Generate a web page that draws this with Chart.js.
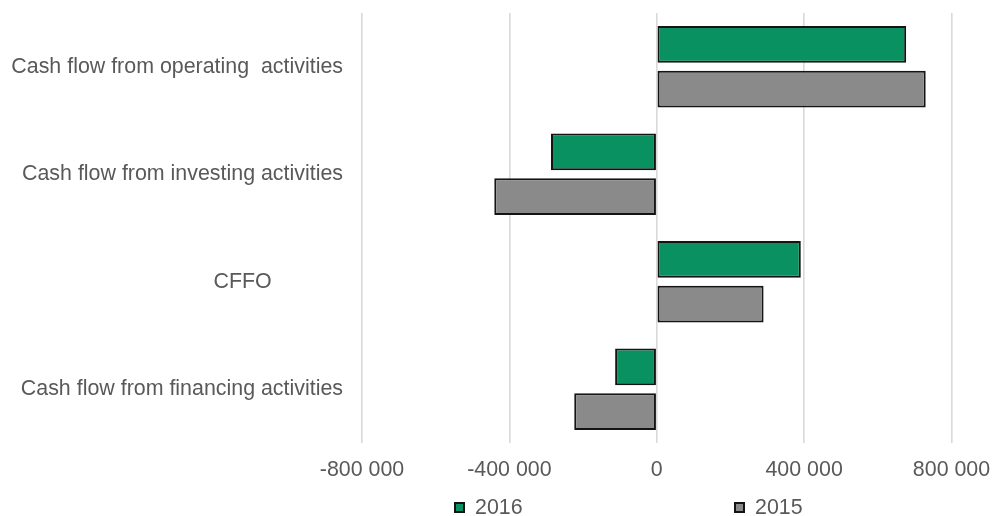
<!DOCTYPE html>
<html>
<head>
<meta charset="utf-8">
<script src="https://cdn.jsdelivr.net/npm/chart.js@4"></script>
<style>
  html, body { margin: 0; padding: 0; background: #ffffff; }
  #wrap { width: 993px; height: 516px; position: relative; }
</style>
</head>
<body>
<div id="wrap"><canvas id="cf"></canvas></div>
<script>
// Cash flow summary, two fiscal years
const categories = [
  'Cash flow from operating  activities',
  'Cash flow from investing activities',
  'CFFO            ',
  'Cash flow from financing activities'
];
const seriesNames = ['2016', '2015'];
const values2016 = [677000, -287000, 391000, -113000];
const values2015 = [730000, -441000, 290000, -224000];
const axisTicks = [-800000, -400000, 0, 400000, 800000];

const FONT = '"Liberation Sans", Arial, Helvetica, sans-serif';
const TEXT = '#595959';
const FONT_SIZE = 21.4;

function fmtThousands(v) {
  const s = Math.abs(v).toFixed(0).replace(/\B(?=(\d{3})+(?!\d))/g, ' ');
  return (v < 0 ? '-' : '') + s;
}

// Legend row drawn under the axis, one swatch + label per dataset
const bottomLegend = {
  id: 'bottomLegend',
  afterDraw(chart, args, opts) {
    const ctx = chart.ctx;
    ctx.save();
    ctx.font = FONT_SIZE + 'px ' + FONT;
    ctx.textBaseline = 'middle';
    ctx.textAlign = 'left';
    chart.data.datasets.forEach((ds, i) => {
      const x = opts.xs[i];
      const y = opts.y;
      ctx.fillStyle = ds.backgroundColor;
      ctx.strokeStyle = ds.borderColor;
      ctx.lineWidth = 2;
      ctx.fillRect(x, y - 4.5, 9, 9);
      ctx.strokeRect(x, y - 4.5, 9, 9);
      ctx.fillStyle = TEXT;
      ctx.fillText(ds.label, x + 20, y + 1);
    });
    ctx.restore();
  }
};

new Chart(document.getElementById('cf'), {
  type: 'bar',
  data: {
    labels: categories,
    datasets: [
      {
        label: seriesNames[0],
        data: values2016,
        backgroundColor: '#0a9161',
        borderColor: '#141414',
        borderWidth: 2,
        borderSkipped: false,
        categoryPercentage: 0.832,
        barPercentage: 0.821
      },
      {
        label: seriesNames[1],
        data: values2015,
        backgroundColor: '#8a8a8a',
        borderColor: '#141414',
        borderWidth: 2,
        borderSkipped: false,
        categoryPercentage: 0.832,
        barPercentage: 0.821
      }
    ]
  },
  plugins: [bottomLegend],
  options: {
    indexAxis: 'y',
    responsive: true,
    maintainAspectRatio: false,
    animation: false,
    layout: { padding: { top: 13, right: 41.5, left: 0, bottom: 0 } },
    plugins: {
      legend: { display: false },
      tooltip: { enabled: false },
      bottomLegend: { xs: [455, 735], y: 507.5 }
    },
    scales: {
      x: {
        min: axisTicks[0],
        max: axisTicks[axisTicks.length - 1],
        afterBuildTicks: (s) => { s.ticks = axisTicks.map(v => ({ value: v })); },
        afterFit: (s) => { s.height = 73; s.paddingLeft = 0; s.paddingRight = 0; },
        grid: { color: '#d9d9d9', lineWidth: 1.6, drawTicks: false },
        border: { display: false },
        ticks: {
          padding: 14,
          color: TEXT,
          font: { family: FONT, size: FONT_SIZE },
          maxRotation: 0,
          callback: (v) => fmtThousands(v)
        }
      },
      y: {
        afterFit: (s) => { s.width = 362; s.paddingTop = 0; s.paddingBottom = 0; },
        grid: { display: false, drawTicks: false },
        border: { display: false },
        ticks: {
          padding: 19,
          color: TEXT,
          font: { family: FONT, size: FONT_SIZE }
        }
      }
    }
  }
});
</script>
</body>
</html>
